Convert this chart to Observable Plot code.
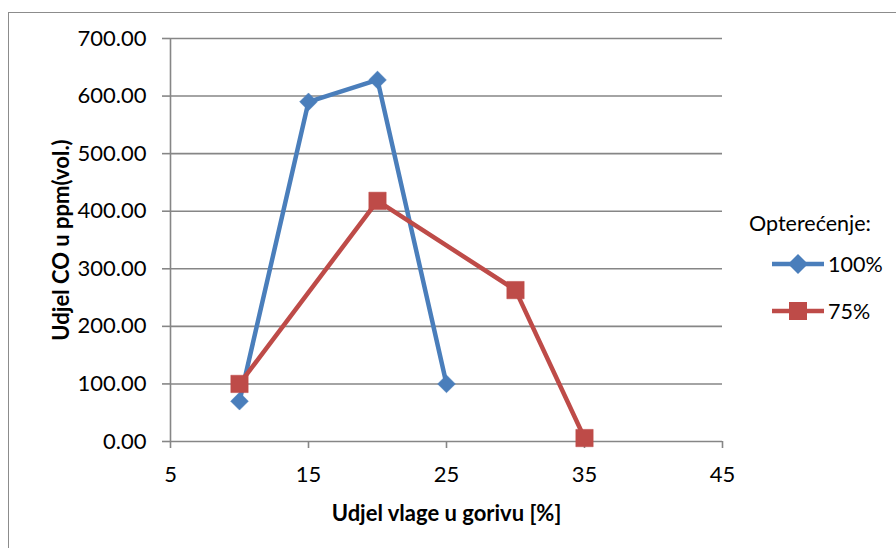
<!DOCTYPE html>
<html>
<head>
<meta charset="utf-8">
<script src="https://cdn.jsdelivr.net/npm/d3@7"></script>
<script src="https://cdn.jsdelivr.net/npm/@observablehq/plot@0.6"></script>
<style>
  html, body { margin: 0; padding: 0; background: #fff; }
  #wrap { position: relative; width: 896px; height: 548px; overflow: hidden; font-family: Lato, "Open Sans", sans-serif; }
  #frame { position: absolute; left: 8px; top: 12px; width: 1000px; height: 1000px; border-left: 1.5px solid #8c8c8c; border-top: 1.5px solid #8c8c8c; }
  #chart { position: absolute; left: 0; top: 0; }
  #legend { position: absolute; left: 749px; top: 206px; font-size: 21.5px; color: #000; }
  #legend .title { height: 34px; line-height: 34px; }
  #legend .item { display: flex; align-items: center; height: 47px; margin-left: 23px; }
  #legend .item svg { margin-right: 4px; }
</style>
</head>
<body>
<div id="wrap">
  <div id="frame"></div>
  <div id="chart"></div>
  <div id="legend"></div>
</div>
<script>
// Data
const legendTitle = "Opterećenje:";
const seriesNames = ["100%", "75%"];
const seriesColors = ["#4A7EBB", "#BE4B48"];
const seriesSymbols = ["diamond2", "square"];

const moisture100 = [10, 15, 20, 25];
const co100 = [70, 590, 628, 100];

const moisture75 = [10, 20, 30, 35];
const co75 = [100, 418, 263, 6];

const xTicks = [5, 15, 25, 35, 45];
const yTicks = [0, 100, 200, 300, 400, 500, 600, 700];

const xTitle = "Udjel vlage u gorivu [%]";
const yTitle = "Udjel CO u ppm(vol.)";

const s100 = moisture100.map((x, i) => ({x, y: co100[i], s: seriesNames[0]}));
const s75 = moisture75.map((x, i) => ({x, y: co75[i], s: seriesNames[1]}));
const data = [...s100, ...s75];

const gridColor = "#868686";

const chart = Plot.plot({
  width: 896,
  height: 548,
  marginLeft: 170,
  marginRight: 174,
  marginTop: 38,
  marginBottom: 107,
  style: {fontFamily: "Lato, 'Open Sans', sans-serif", fontSize: "22px", color: "#000", background: "transparent"},
  x: {domain: [5, 45]},
  y: {domain: [0, 700]},
  color: {domain: seriesNames, range: seriesColors},
  symbol: {domain: seriesNames, range: seriesSymbols},
  marks: [
    Plot.ruleY(yTicks, {stroke: gridColor, strokeWidth: 1.6}),
    Plot.ruleX([xTicks[0]], {stroke: gridColor, strokeWidth: 1.6}),
    Plot.axisY({ticks: yTicks, tickFormat: d3.format(".2f"), tickSize: 8, tickPadding: 16, stroke: gridColor, strokeWidth: 1.6, strokeOpacity: 1,
      label: yTitle, labelAnchor: "center", labelArrow: "none", labelOffset: 117, fontWeight: "bold"}),
    Plot.axisX({ticks: xTicks, tickFormat: d => d, tickSize: 7, tickPadding: 18, stroke: gridColor, strokeWidth: 1.6, strokeOpacity: 1,
      label: xTitle, labelAnchor: "center", labelArrow: "none", labelOffset: 79, fontWeight: "bold"}),
    Plot.line(data, {x: "x", y: "y", z: "s", stroke: "s", strokeWidth: 4.5, strokeLinejoin: "round"}),
    Plot.dot(s100, {x: "x", y: "y", symbol: "s", fill: "s", stroke: "s", r: 8, strokeWidth: 0.5}),
    Plot.dot(s75, {x: "x", y: "y", symbol: "s", fill: "s", stroke: "s", r: 9.8, strokeWidth: 0.5})
  ]
});
// make tick labels non-bold (only titles bold)
chart.querySelectorAll('g[aria-label="y-axis tick label"], g[aria-label="x-axis tick label"]').forEach(g => g.setAttribute("font-weight", "normal"));
document.getElementById("chart").appendChild(chart);

// Legend
const legend = document.getElementById("legend");
const t = document.createElement("div");
t.className = "title";
t.textContent = legendTitle;
legend.appendChild(t);
seriesNames.forEach((name, i) => {
  const item = document.createElement("div");
  item.className = "item";
  const sym = seriesSymbols[i] === "square"
    ? `<rect x="17" y="1" width="18" height="18" fill="${seriesColors[i]}"/>`
    : `<path d="M26,0 L36,10 L26,20 L16,10 Z" fill="${seriesColors[i]}"/>`;
  item.innerHTML = `<svg width="52" height="20"><line x1="0" y1="10" x2="52" y2="10" stroke="${seriesColors[i]}" stroke-width="4.5" stroke-linecap="round"/>${sym}</svg><span>${name}</span>`;
  legend.appendChild(item);
});
</script>
</body>
</html>
